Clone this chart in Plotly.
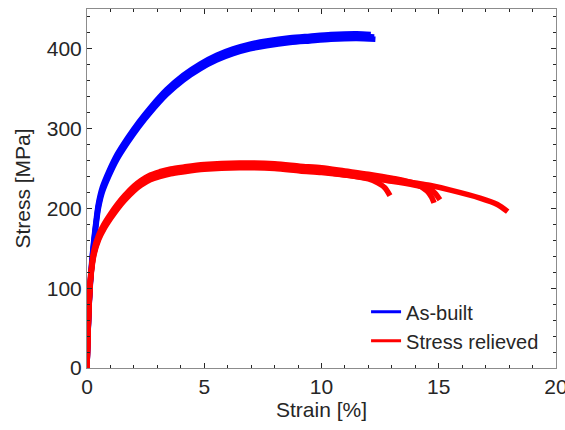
import plotly.graph_objects as go

# ---- data (strain in %, stress in MPa) ----
blue_strain_a = [0, 0.1, 0.2, 0.3, 0.4, 0.48, 0.65, 0.94, 1.29, 1.72, 2.2, 2.69, 3.4, 4.11, 4.82, 5.53, 6.23, 6.95, 7.66, 8.66, 9.5, 10.4, 11.5, 12.25]
blue_stress_a = [0, 85, 130, 160, 185, 202, 223, 244, 265, 285, 305, 323, 346, 364, 378, 389, 397, 403, 407, 411, 413, 415, 416, 415]
blue_strain_b = [0, 0.1, 0.2, 0.3, 0.4, 0.48, 0.65, 0.94, 1.29, 1.72, 2.2, 2.69, 3.4, 4.11, 4.82, 5.53, 6.23, 6.95, 7.66, 8.66, 9.5, 10.4, 11.5, 12.1]
blue_stress_b = [0, 87, 133, 163, 188, 205, 226, 247, 268, 288, 308, 326, 349, 367, 381, 392, 400, 406, 410, 414, 416, 418, 419, 418]
blue_strain_c = [0, 0.1, 0.2, 0.3, 0.4, 0.48, 0.65, 0.94, 1.29, 1.72, 2.2, 2.69, 3.4, 4.11, 4.82, 5.53, 6.23, 6.95, 7.66, 8.66, 9.5, 10.4, 11.5, 12.3]
blue_stress_c = [0, 83, 127, 157, 182, 199, 220, 241, 262, 282, 302, 320, 343, 361, 375, 386, 394, 400, 404, 408, 410, 412, 413, 412]

red_strain_a = [0, 0.085, 0.16, 0.3, 0.5, 0.72, 1.0, 1.29, 1.6, 2.0, 2.3, 2.7, 3.1, 3.57, 4.14, 5.0, 6.5, 8.0, 9.08, 10.0, 11.0, 12.0, 13.0, 14.0, 14.6, 15.5, 16.76, 17.5, 17.94]
red_stress_a = [0, 77, 115, 145, 164, 177, 190, 202, 213, 225, 232, 239, 243, 246.5, 249, 252, 254, 253, 250, 248, 245, 241, 237, 232, 229, 223, 213, 205, 196]
red_strain_b = [0, 0.085, 0.16, 0.3, 0.5, 0.72, 1.0, 1.29, 1.6, 2.0, 2.3, 2.7, 3.1, 3.57, 4.14, 5.0, 6.5, 8.0, 9.08, 10.0, 11.0, 12.0, 13.0, 14.0, 14.6, 14.85, 15.05]
red_stress_b = [0, 74, 112, 142, 161, 174, 187, 199, 210, 222, 229, 236, 240, 243.5, 246, 249, 251, 250, 247, 245, 242, 238, 234, 229, 225, 219, 211]
red_strain_c = [0, 0.085, 0.16, 0.3, 0.5, 0.72, 1.0, 1.29, 1.6, 2.0, 2.3, 2.7, 3.1, 3.57, 4.14, 5.0, 6.5, 8.0, 9.08, 10.0, 11.0, 12.0, 13.0, 14.0, 14.5, 14.7, 14.8]
red_stress_c = [0, 80, 118, 148, 167, 180, 193, 205, 216, 228, 235, 242, 246, 249.5, 252, 255, 257, 256, 253, 251, 247, 243, 238, 231, 222, 214, 207]
red_strain_d = [0, 0.085, 0.16, 0.3, 0.5, 0.72, 1.0, 1.29, 1.6, 2.0, 2.3, 2.7, 3.1, 3.57, 4.14, 5.0, 6.5, 8.0, 9.08, 10.0, 11.0, 12.0, 12.4, 12.7, 12.92]
red_stress_d = [0, 76, 114, 144, 163, 176, 189, 201, 212, 224, 231, 238, 242, 245.5, 248, 251, 253, 252, 249, 246, 242, 237, 232, 226, 216]

x_ticks = [0, 5, 10, 15, 20]
y_ticks = [0, 100, 200, 300, 400]
legend_names = ["As-built", "Stress relieved"]

BLUE = "#0000FF"
RED = "#FF0000"
TXT = "#262626"
FONT = "Liberation Sans, Arial, sans-serif"

fig = go.Figure()

for xs, ys in [(blue_strain_a, blue_stress_a), (blue_strain_b, blue_stress_b), (blue_strain_c, blue_stress_c)]:
    fig.add_trace(go.Scatter(x=xs, y=ys, mode="lines",
                             line=dict(color=BLUE, width=5.5, shape="spline", smoothing=0.8),
                             showlegend=False, hoverinfo="skip"))
for xs, ys in [(red_strain_a, red_stress_a), (red_strain_b, red_stress_b),
               (red_strain_c, red_stress_c), (red_strain_d, red_stress_d)]:
    fig.add_trace(go.Scatter(x=xs, y=ys, mode="lines",
                             line=dict(color=RED, width=5.5, shape="spline", smoothing=0.8),
                             showlegend=False, hoverinfo="skip"))

# legend entries
fig.add_trace(go.Scatter(x=[None], y=[None], mode="lines", name=legend_names[0],
                         line=dict(color=BLUE, width=3)))
fig.add_trace(go.Scatter(x=[None], y=[None], mode="lines", name=legend_names[1],
                         line=dict(color=RED, width=3)))

axis_common = dict(
    showline=True, linecolor="#8c8c8c", linewidth=1, mirror="ticks",
    ticks="inside", ticklen=5, tickcolor=TXT, tickwidth=1,
    showgrid=False, zeroline=False, automargin=False,
    ticklabeloverflow="allow",
    tickfont=dict(family=FONT, size=21, color=TXT),
)

fig.update_layout(
    width=565, height=430,
    margin=dict(l=87, r=9, t=9, b=62),
    paper_bgcolor="white", plot_bgcolor="white",
    font=dict(family=FONT, color=TXT),
    xaxis=dict(range=[0, 20], tickvals=x_ticks, ticktext=[str(v) for v in x_ticks],
               minor=dict(dtick=1, ticks="inside", ticklen=3, tickcolor=TXT),
               title=dict(text="Strain [%]", font=dict(family=FONT, size=21, color=TXT), standoff=4),
               **axis_common),
    yaxis=dict(range=[0, 450], tickvals=y_ticks, ticktext=[str(v) for v in y_ticks],
               minor=dict(dtick=20, ticks="inside", ticklen=3, tickcolor=TXT),
               title=dict(text="Stress [MPa]", font=dict(family=FONT, size=21, color=TXT), standoff=10),
               **axis_common),
    legend=dict(x=0.595, y=0.211, xanchor="left", yanchor="top",
                bgcolor="rgba(0,0,0,0)", borderwidth=0,
                font=dict(family=FONT, size=20, color=TXT),
                tracegroupgap=0),
)

fig.write_html("out.html",
               config={"displayModeBar": False},
               post_script="document.body.style.margin='0px';document.body.style.overflow='hidden';")
